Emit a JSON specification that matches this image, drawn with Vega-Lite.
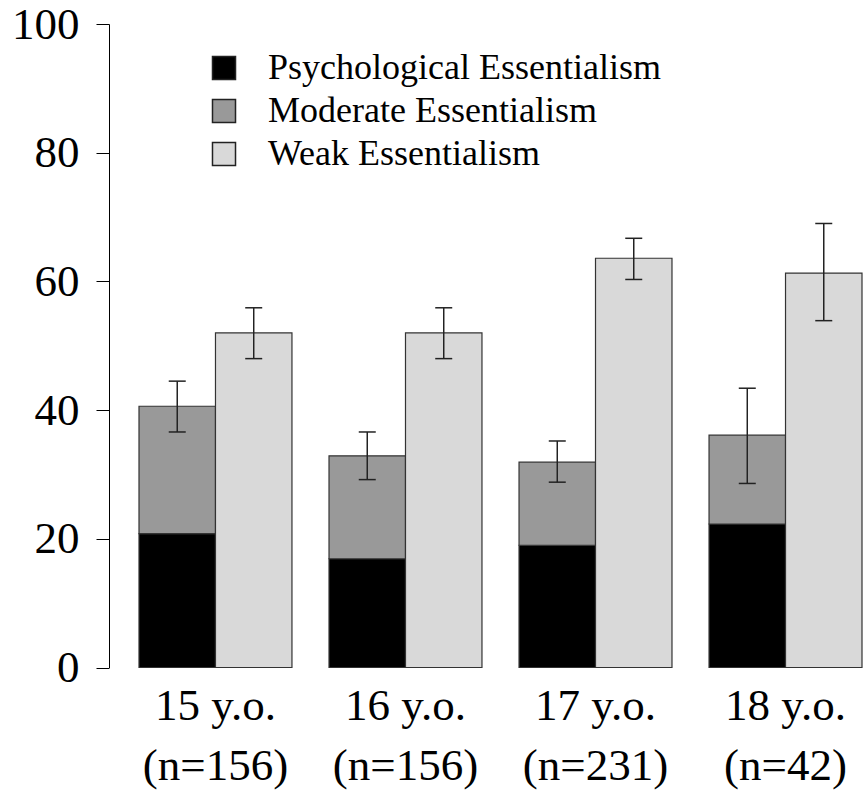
{
  "$schema": "https://vega.github.io/schema/vega-lite/v6.json",
  "width": 723,
  "height": 643.5,
  "autosize": {"type": "none"},
  "padding": {"left": 139, "top": 24, "right": 2, "bottom": 124.5},
  "config": {"view": {"stroke": null}, "font": "Liberation Serif"},
  "datasets": {
    "bars": [
      {"age": "15 y.o.|(n=156)", "col": "A", "cat": "Psychological Essentialism", "lo": 0, "hi": 20.8},
      {"age": "15 y.o.|(n=156)", "col": "A", "cat": "Moderate Essentialism", "lo": 20.8, "hi": 40.6},
      {"age": "15 y.o.|(n=156)", "col": "B", "cat": "Weak Essentialism", "lo": 0, "hi": 52.0},
      {"age": "16 y.o.|(n=156)", "col": "A", "cat": "Psychological Essentialism", "lo": 0, "hi": 16.9},
      {"age": "16 y.o.|(n=156)", "col": "A", "cat": "Moderate Essentialism", "lo": 16.9, "hi": 32.9},
      {"age": "16 y.o.|(n=156)", "col": "B", "cat": "Weak Essentialism", "lo": 0, "hi": 52.0},
      {"age": "17 y.o.|(n=231)", "col": "A", "cat": "Psychological Essentialism", "lo": 0, "hi": 19.0},
      {"age": "17 y.o.|(n=231)", "col": "A", "cat": "Moderate Essentialism", "lo": 19.0, "hi": 31.9},
      {"age": "17 y.o.|(n=231)", "col": "B", "cat": "Weak Essentialism", "lo": 0, "hi": 63.6},
      {"age": "18 y.o.|(n=42)", "col": "A", "cat": "Psychological Essentialism", "lo": 0, "hi": 22.3},
      {"age": "18 y.o.|(n=42)", "col": "A", "cat": "Moderate Essentialism", "lo": 22.3, "hi": 36.1},
      {"age": "18 y.o.|(n=42)", "col": "B", "cat": "Weak Essentialism", "lo": 0, "hi": 61.3}
    ],
    "err": [
      {"age": "15 y.o.|(n=156)", "col": "A", "elo": 36.6, "ehi": 44.5},
      {"age": "15 y.o.|(n=156)", "col": "B", "elo": 48.0, "ehi": 55.9},
      {"age": "16 y.o.|(n=156)", "col": "A", "elo": 29.2, "ehi": 36.6},
      {"age": "16 y.o.|(n=156)", "col": "B", "elo": 48.0, "ehi": 55.9},
      {"age": "17 y.o.|(n=231)", "col": "A", "elo": 28.8, "ehi": 35.2},
      {"age": "17 y.o.|(n=231)", "col": "B", "elo": 60.3, "ehi": 66.7},
      {"age": "18 y.o.|(n=42)", "col": "A", "elo": 28.6, "ehi": 43.4},
      {"age": "18 y.o.|(n=42)", "col": "B", "elo": 53.9, "ehi": 69.0}
    ]
  },
  "layer": [
    {
      "data": {"name": "bars"},
      "mark": {"type": "bar", "stroke": "#333333", "strokeWidth": 1.2},
      "encoding": {
        "x": {
          "field": "age", "type": "nominal",
          "scale": {"paddingInner": 0.195, "paddingOuter": 0},
          "axis": {
            "title": null, "domain": false, "ticks": false, "labelAngle": 0,
            "labelExpr": "split(datum.label, '|')",
            "labelFont": "Liberation Serif", "labelFontSize": 45, "labelColor": "#000000",
            "labelPadding": 16, "labelLineHeight": 60, "labelLimit": 0
          }
        },
        "xOffset": {"field": "col", "type": "nominal", "scale": {"domain": ["A", "B"], "paddingInner": 0, "paddingOuter": 0}},
        "y": {
          "field": "hi", "type": "quantitative", "title": null,
          "scale": {"domain": [0, 100], "nice": false},
          "axis": {
            "values": [0, 20, 40, 60, 80, 100], "grid": false, "offset": 30,
            "tickSize": 13, "tickColor": "#000000", "tickWidth": 1,
            "domainColor": "#000000", "domainWidth": 1,
            "labelFont": "Liberation Serif", "labelFontSize": 45, "labelColor": "#000000",
            "labelPadding": 17, "labelOffset": 0
          }
        },
        "y2": {"field": "lo"},
        "color": {
          "field": "cat", "type": "nominal",
          "scale": {
            "domain": ["Psychological Essentialism", "Moderate Essentialism", "Weak Essentialism"],
            "range": ["#000000", "#999999", "#d9d9d9"]
          },
          "legend": {
            "title": null, "orient": "none", "legendX": 67, "legendY": 26, "padding": 0,
            "symbolType": "square", "symbolSize": 530, "symbolStrokeColor": "#222222", "symbolStrokeWidth": 1.5,
            "symbolOpacity": 1,
            "labelFont": "Liberation Serif", "labelFontSize": 36, "labelColor": "#000000",
            "labelOffset": 26, "rowPadding": 7, "labelLimit": 0
          }
        }
      }
    },
    {
      "data": {"name": "err"},
      "mark": {"type": "rule", "color": "#222222", "strokeWidth": 1.5},
      "encoding": {
        "x": {"field": "age", "type": "nominal"},
        "xOffset": {"field": "col", "type": "nominal"},
        "y": {"field": "elo", "type": "quantitative", "title": null},
        "y2": {"field": "ehi"}
      }
    },
    {
      "data": {"name": "err"},
      "mark": {"type": "tick", "orient": "horizontal", "size": 17, "thickness": 1.5, "color": "#222222", "opacity": 1},
      "encoding": {
        "x": {"field": "age", "type": "nominal"},
        "xOffset": {"field": "col", "type": "nominal"},
        "y": {"field": "elo", "type": "quantitative", "title": null}
      }
    },
    {
      "data": {"name": "err"},
      "mark": {"type": "tick", "orient": "horizontal", "size": 17, "thickness": 1.5, "color": "#222222", "opacity": 1},
      "encoding": {
        "x": {"field": "age", "type": "nominal"},
        "xOffset": {"field": "col", "type": "nominal"},
        "y": {"field": "ehi", "type": "quantitative", "title": null}
      }
    }
  ]
}
